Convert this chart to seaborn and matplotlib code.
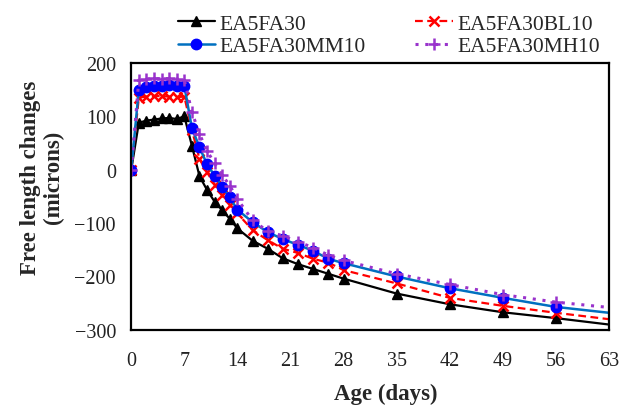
import matplotlib
matplotlib.use("Agg")
import matplotlib.pyplot as plt
import seaborn as sns
import pandas as pd

# Measurement ages (days)
days = [0, 1, 2, 3, 4, 5, 6, 7, 8, 9, 10, 11, 12, 13, 14, 16, 18, 20, 22, 24, 26, 28,
        35, 42, 49, 56, 63]

# Free length changes (microns)
ea5fa30 = [0, 88, 92, 94, 96, 97, 95, 100, 45, -12, -38, -60, -76, -92, -110, -133, -148,
           -166, -177, -186, -195, -204, -232, -252, -267, -278, -290]
ea5fa30bl10 = [0, 135, 137, 138, 138, 137, 136, 137, 75, 20, -5, -28, -48, -66, -82, -113,
               -132, -148, -156, -167, -174, -188, -213, -240, -255, -268, -280]
ea5fa30mm10 = [0, 150, 155, 156, 157, 158, 157, 157, 78, 42, 10, -11, -32, -52, -75, -98,
               -117, -130, -141, -152, -167, -175, -200, -222, -240, -257, -268]
ea5fa30mh10 = [0, 168, 170, 171, 170, 171, 170, 168, 108, 67, 35, 12, -10, -30, -55, -95,
               -115, -124, -135, -146, -160, -170, -195, -215, -234, -248, -258]

series_names = ["EA5FA30", "EA5FA30BL10", "EA5FA30MM10", "EA5FA30MH10"]
x_ticks = [0, 7, 14, 21, 28, 35, 42, 49, 56, 63]
y_ticks = [-300, -200, -100, 0, 100, 200]

df = pd.DataFrame({
    "Age": days * 4,
    "Change": ea5fa30 + ea5fa30bl10 + ea5fa30mm10 + ea5fa30mh10,
    "Mix": [n for n in series_names for _ in days],
})

sns.set_style("white")
plt.rcParams["font.family"] = ["Liberation Serif", "DejaVu Serif"]

fig = plt.figure(figsize=(6.22, 4.10), dpi=100)
ax = fig.add_axes([0.211, 0.193, 0.768, 0.651])

styles = {
    "EA5FA30": dict(color="black", mfc="black", mec="black", marker="^", ls="-",
                    ms=7, lw=1.6),
    "EA5FA30BL10": dict(color="#FF0000", mfc="#FF0000", mec="#FF0000", marker="x",
                        ls=(0, (3.5, 2)), ms=6.5, lw=1.6, mew=1.8),
    "EA5FA30MM10": dict(color="#0070C0", mfc="#0000FF", mec="#0000FF", marker="o",
                        ls="-", ms=7.5, lw=1.8),
    "EA5FA30MH10": dict(color="#9933CC", mfc="#9933CC", mec="#9933CC", marker="+",
                        ls=(0, (1, 2.2)), ms=9, lw=2.2, mew=1.8),
}

last = len(days) - 1
for name in series_names:
    st = dict(styles[name])
    sub = df[df["Mix"] == name]
    sns.lineplot(data=sub, x="Age", y="Change", ax=ax, label=name,
                 color=st.pop("color"), marker=st.pop("marker"),
                 linestyle=st.pop("ls"), linewidth=st.pop("lw"),
                 markersize=st.pop("ms"), markerfacecolor=st.pop("mfc"),
                 markeredgecolor=st.pop("mec"),
                 markeredgewidth=st.pop("mew", 1.0),
                 markevery=list(range(last)), estimator=None, sort=False)

ax.set_xlim(0, 63)
ax.set_ylim(-300, 200)
ax.set_xticks(x_ticks)
ax.set_yticks(y_ticks)
ax.tick_params(axis="both", labelsize=14.5, colors="#222222", direction="in",
               length=4, width=1.2)
ax.tick_params(axis="y", pad=11)
ax.tick_params(axis="x", length=0, pad=15)
for sp in ax.spines.values():
    sp.set_visible(True)
    sp.set_color("black")
    sp.set_linewidth(1.6)

ax.set_xlabel("Age (days)", fontsize=16.5, fontweight="bold")
ax.xaxis.set_label_coords(0.533, -0.2)
ax.set_ylabel("Free length changes\n(microns)", fontsize=16.5, fontweight="bold",
              linespacing=1.15)
ax.yaxis.set_label_coords(-0.14, 0.575)

# Legend in row order: two entries per row
handles, labels = ax.get_legend_handles_labels()
order = [0, 2, 1, 3]
ax.legend([handles[i] for i in order], [labels[i] for i in order],
          loc="upper center", bbox_to_anchor=(0.625, 1.0 - 2 / 410),
          bbox_transform=fig.transFigure, ncol=2, frameon=False,
          fontsize=15.5, handlelength=1.75, columnspacing=2.3, labelspacing=0.1,
          handletextpad=0.2, borderpad=0.1)

fig.savefig("out.png", dpi=100)
